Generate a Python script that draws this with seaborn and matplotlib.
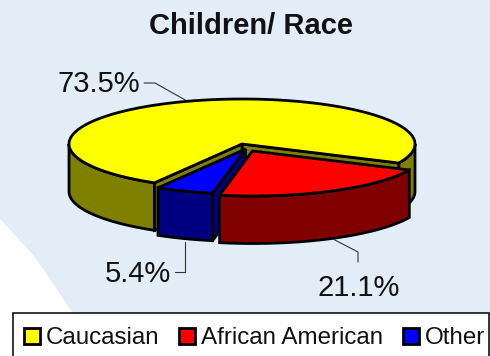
import numpy as np
import seaborn as sns
import matplotlib
matplotlib.use("Agg")
import matplotlib.pyplot as plt
from matplotlib.patches import Patch, Rectangle, Polygon

categories = ["Caucasian", "African American", "Other"]
values = [73.5, 21.1, 5.4]
value_labels = ["73.5%", "21.1%", "5.4%"]
hex_colors = ["#FFFF00", "#FF0000", "#0000FF"]
title = "Children/ Race"

sns.set_theme(style="white")
plt.rcParams["font.family"] = ["Liberation Sans", "DejaVu Sans"]
palette = sns.color_palette(hex_colors)
shade = [tuple(c * 0.5 for c in col) for col in palette]

W, H = 490, 356
BG = "#E3EDF7"
fig = plt.figure(figsize=(W / 100, H / 100), dpi=100, facecolor="white")
ax = fig.add_axes([0, 0, 1, 1])
ax.set_xlim(0, W)
ax.set_ylim(H, 0)
ax.axis("off")

# background shape
ax.add_patch(Polygon([(0, 0), (W, 0), (W, H), (90, H), (72, 312), (50, 279), (33, 255), (15, 235), (0, 219)],
                     closed=True, fc=BG, ec="none", zorder=0))

# pie geometry
A, B, DEPTH = 173, 45, 47.5
LW = 2.0
START = -25.0
spans = [v / sum(values) * 360 for v in values]
red_a0 = START - spans[1]           # red runs clockwise from START
blue_a0 = red_a0 - spans[2]
centers = {"y": (242, 144), "r": (252.5, 151), "b": (245.5, 149)}


def pt(c, t):
    t = np.radians(t)
    return np.column_stack([c[0] + A * np.cos(t), c[1] - B * np.sin(t)])


def arc(c, t0, t1):
    return pt(c, np.linspace(t0, t1, 120))


def top(c, t0, t1, col, z):
    pts = np.vstack([[c], arc(c, t0, t1)])
    ax.add_patch(Polygon(pts, closed=True, fc=col, ec="black", lw=LW, zorder=z))


def outer(c, t0, t1, col, z):
    a = arc(c, t0, t1)
    pts = np.vstack([a, (a + [0, DEPTH])[::-1]])
    ax.add_patch(Polygon(pts, closed=True, fc=col, ec="black", lw=LW, zorder=z))


def cut(c, t, col, z):
    e = pt(c, t)[0]
    pts = [c, e, e + [0, DEPTH], (c[0], c[1] + DEPTH)]
    ax.add_patch(Polygon(pts, closed=True, fc=col, ec="black", lw=LW, zorder=z))


# Caucasian
cy = centers["y"]
outer(cy, -180, blue_a0, shade[0], 2)
outer(cy, START, 0, shade[0], 2)
cut(cy, START, shade[0], 3)
cut(cy, blue_a0, shade[0], 3)
top(cy, START, 360 + blue_a0, palette[0], 4)

# Other
cb = centers["b"]
cut(cb, red_a0, shade[2], 5)
outer(cb, blue_a0, red_a0, shade[2], 6)
top(cb, blue_a0, red_a0, palette[2], 7)

# African American
cr = centers["r"]
outer(cr, red_a0, START, shade[1], 8)
top(cr, red_a0, START, palette[1], 9)

# leaders
for xs, ys in [((144, 155, 187), (83, 83, 101)),
               ((175, 185, 185), (272, 272, 242)),
               ((333, 358, 358), (239, 252, 262))]:
    ax.plot(xs, ys, color="#333333", lw=0.8, zorder=1 if ys[0] == 83 else 10)

# texts
TXT = "#111111"
ax.text(57, 92, value_labels[0], fontsize=21, color=TXT, ha="left", va="baseline")
ax.text(317, 296.5, value_labels[1], fontsize=21, color=TXT, ha="left", va="baseline")
ax.text(105, 282, value_labels[2], fontsize=21, color=TXT, ha="left", va="baseline")
ax.text(250.7, 33.5, title, fontsize=21, fontweight="bold", color=TXT, ha="center", va="baseline")

# legend
ax.add_patch(Rectangle((12.5, 312.5), 476, 60, fc="white", ec="black", lw=1.1, zorder=11, clip_on=True))
handles = [Patch(fc=c, ec="black", lw=2.0, label=l) for c, l in zip(palette, categories)]
leg = ax.legend(handles=handles, loc="center left", bbox_to_anchor=(24, 338.5),
                bbox_transform=ax.transData, ncol=3, frameon=False, fontsize=17.4,
                borderpad=0, borderaxespad=0, handlelength=0.66, handleheight=0.66,
                handletextpad=0.22, columnspacing=0.85, labelcolor=TXT)
leg.set_zorder(12)

fig.savefig("out.png", dpi=100, facecolor="white")
